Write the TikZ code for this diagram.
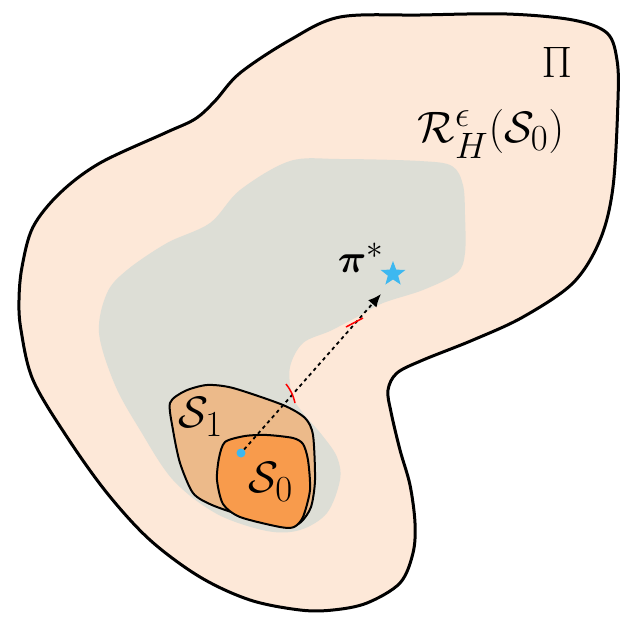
\documentclass[tikz,border=0pt]{standalone}
\usepackage{amsmath,amssymb,bm}
\usetikzlibrary{shapes.geometric,arrows.meta}
\definecolor{peach}{RGB}{253,232,216}
\definecolor{greyreg}{RGB}{221,222,214}
\definecolor{tanset}{RGB}{236,186,138}
\definecolor{orangeset}{RGB}{248,155,76}
\definecolor{starblue}{RGB}{61,184,240}
\newcommand{\biglbl}[1]{\scalebox{1.77}{#1}}
\tikzset{
  outline/.style={draw=black,line width=3pt,line join=round},
  setline/.style={draw=black,line width=2pt,line join=round},
  biglabel/.style={font=\Huge,inner sep=0pt},
  redtick/.style={draw=red,line width=1.5pt},
  pathline/.style={line width=1.8pt,dash pattern=on 3.5pt off 3.5pt,-{Latex[length=13pt,width=11pt]}}
}
\begin{document}
\begin{tikzpicture}[x=1pt,y=-1pt]
\useasboundingbox (0,0) rectangle (630,619);
% outer region Pi
\path[fill=peach,outline] plot[smooth cycle,tension=0.55] coordinates{
(340,17) (420,15) (507,14) (573,20) (607,33) (617,60) (618,100) (613,187) (600,240) (573,283) (523,317) (473,340) (423,360) (397,373) (388,390) (391,412) (400,450) (410,485) (415,523) (413,553) (400,583) (367,603) (333,610) (300,610) (250,600) (200,577) (150,540) (107,493) (67,437) (33,380) (21,330) (19,300) (22,267) (33,227) (60,193) (100,163) (165,133) (195,119) (215,101) (240,73) (290,40)};
% reachable region (grey)
\path[fill=greyreg] plot[smooth cycle,tension=0.55] coordinates{
(290,161) (340,159) (420,161) (452,166) (463,185) (465,215) (465,253) (457,273) (423,290) (383,303) (357,317) (330,331) (303,343) (290,367) (292,395) (303,413) (322,435) (337,457) (340,480) (327,513) (300,530) (267,531) (217,514) (173,480) (140,430) (115,385) (99,333) (107,293) (127,270) (167,243) (210,223) (240,190)};
% S1
\path[fill=tanset,setline] plot[smooth cycle,tension=0.45] coordinates{
(170,403) (185,391) (207,385) (233,388) (283,405) (305,418) (313,435) (315,480) (311,507) (301,522) (287,527) (247,517) (212,505) (193,493) (180,463) (173,430)};
% S0
\path[fill=orangeset,setline] plot[smooth cycle,tension=0.45] coordinates{
(225,442) (245,436) (267,435) (293,438) (303,444) (308,460) (310,490) (303,517) (294,527) (280,527) (240,517) (223,504) (217,480) (219,458)};
% labels
\node[biglabel] (pi) at (557,62) {\biglbl{$\Pi$}};
\node[biglabel] (reach) at (491,134) {\biglbl{$\mathcal{R}_H^{\epsilon}(\mathcal{S}_0)$}};
\node[biglabel] (s1) at (201,417) {\biglbl{$\mathcal{S}_1$}};
\node[biglabel] (s0) at (271,482) {\biglbl{$\mathcal{S}_0$}};
\node[biglabel] (pistar) at (361,258) {\scalebox{1.6}{$\bm{\pi}^*$}};
\node[star,star points=5,star point ratio=2.4,fill=starblue,minimum size=26pt,inner sep=0pt] (goal) at (393,274) {};
% start point and path
\node[circle,fill=starblue,minimum size=9pt,inner sep=0pt] (start) at (241,453) {};
\coordinate (tip) at (381,294);
\draw[pathline] (start) -- (tip);
% red crossing ticks
\draw[redtick] (286,384) to[bend left=12] (295,403);
\draw[redtick] (346,327) -- (363,318);
\end{tikzpicture}
\end{document}
